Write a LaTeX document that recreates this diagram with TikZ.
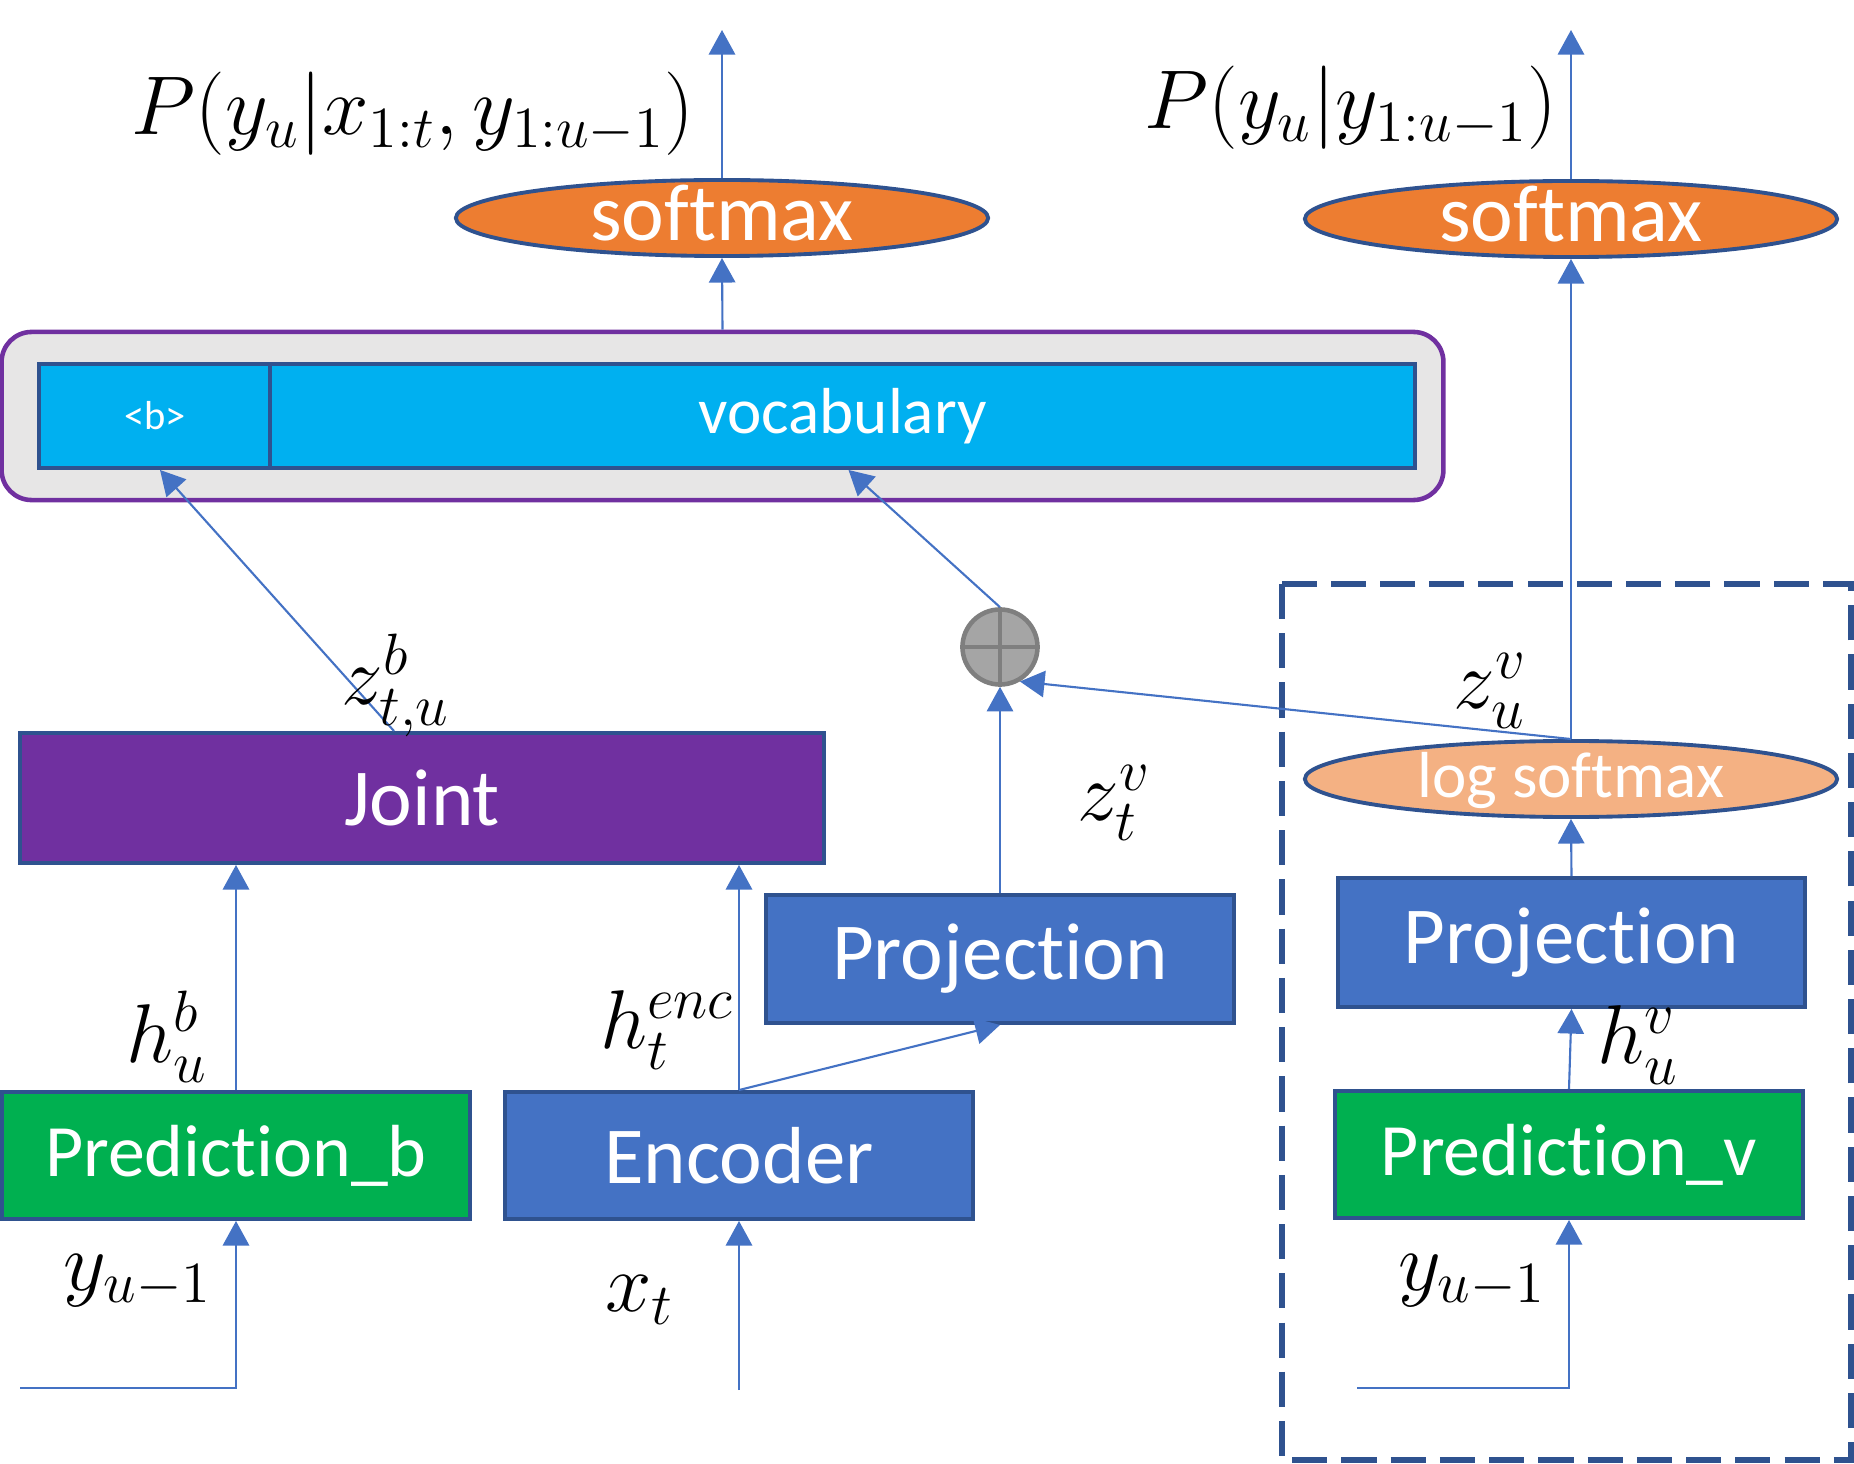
\RequirePackage{fix-cm}
\documentclass[tikz,border=0pt]{standalone}
\usepackage{fontspec}
\setmainfont{Carlito}[Ligatures=NoCommon]
\usetikzlibrary{shapes.geometric,arrows.meta}
\definecolor{linkblue}{HTML}{4472C4}
\definecolor{edgeblue}{HTML}{2F528F}
\definecolor{boxblue}{HTML}{4472C4}
\definecolor{boxgreen}{HTML}{00B050}
\definecolor{boxcyan}{HTML}{00B0F0}
\definecolor{boxpurple}{HTML}{7030A0}
\definecolor{layergray}{HTML}{E7E6E6}
\definecolor{softorange}{HTML}{ED7D31}
\definecolor{logorange}{HTML}{F4B183}
\definecolor{addfill}{HTML}{A5A5A5}
\definecolor{addedge}{HTML}{7F7F7F}

\def\bigfont{\fontsize{23}{27}\selectfont}
\def\midfont{\fontsize{18.5}{22}\selectfont}
\def\mathfont{\fontsize{23.7}{28}\selectfont}

\begin{document}
\begin{tikzpicture}[x=0.01cm, y=-0.01cm,
  block/.style={draw=edgeblue, line width=1.1pt, inner sep=0pt,
    minimum width=4.67cm, minimum height=1.27cm, text=white, font=\bigfont},
  oval/.style={ellipse, draw=edgeblue, line width=1.1pt, inner sep=0pt,
    minimum width=5.32cm, minimum height=0.76cm, text height=0.45cm,
    text depth=0pt, text=white, font=\bigfont},
  cell/.style={draw=edgeblue, line width=1.1pt, fill=boxcyan, inner sep=0pt,
    minimum height=1.04cm, text=white},
  link/.style={linkblue, line width=0.6pt, -{Triangle[length=7pt,width=7.5pt]}},
  lab/.style={font=\mathfont}]
  \useasboundingbox (0,0) rectangle (1854,1464);

  % outputs
  \node[oval, fill=softorange] (smL) at (722,218) {softmax};
  \node[oval, fill=softorange] (smR) at (1571,219) {softmax};
  \coordinate (outL) at (722,30);
  \coordinate (outR) at (1571,30);
  \node[lab] (pL) at (413,114) {$P(y_u|x_{1:t},y_{1:u-1})$};
  \node[lab] (pR) at (1351,108) {$P(y_u|y_{1:u-1})$};

  % output layer
  \node[draw=boxpurple, line width=1.3pt, fill=layergray, rounded corners=0.3cm,
    minimum width=14.41cm, minimum height=1.68cm] (layer) at (722.5,416) {};
  \node[cell, minimum width=2.31cm, font=\fontsize{11.5}{14}\selectfont] (blank) at (155,416) {<b>};
  \node[cell, minimum width=11.45cm, font=\midfont] (vocab) at (842.5,416) {vocabulary};

  % transducer
  \node[block, fill=boxpurple, minimum width=8.04cm, minimum height=1.3cm] (joint) at (422,798) {Joint};
  \node[circle, draw=addedge, fill=addfill, line width=1.3pt, inner sep=0pt,
    minimum size=0.75cm] (add) at (1000,647) {};
  \draw[addedge, line width=1.3pt] (add.north) -- (add.south) (add.west) -- (add.east);
  \node[block, fill=boxblue, minimum height=1.28cm] (projM) at (1000,959) {Projection};
  \node[block, fill=boxblue] (enc) at (739,1155.5) {Encoder};
  \node[block, fill=boxgreen, font=\fontsize{21}{25}\selectfont] (predB) at (236,1155.5) {Prediction\_b};

  % language model branch
  \draw[edgeblue, line width=1.5pt, dash pattern=on 10pt off 4pt] (1282,584) rectangle (1851,1460);
  \node[oval, fill=logorange, font=\midfont, text height=0.36cm] (logsm) at (1571,779) {log softmax};
  \node[block, fill=boxblue, minimum height=1.29cm] (projR) at (1571.5,942.5) {Projection};
  \node[block, fill=boxgreen, font=\fontsize{21}{25}\selectfont] (predV) at (1569,1154.5) {Prediction\_v};

  % inputs
  \coordinate (inB) at (20,1388);
  \coordinate (inX) at (739,1390);
  \coordinate (inV) at (1357,1388);

  % connectors
  \draw[link] (smL.north) -- (outL);
  \draw[link] (smR.north) -- (outR);
  \draw[link] (layer.north) -- (smL.south);
  \draw[link] (logsm.north) -- (smR.south);
  \draw[link] ([xshift=-0.28cm]joint.north) -- ([xshift=0.05cm]blank.south);
  \draw[link] (add.north) -- ([xshift=0.06cm]vocab.south);
  \draw[link] (projM.north) -- (add.south);
  \draw[link] (logsm.north) -- (add.-60);
  \draw[link] (predB.north) -- (predB.north |- joint.south);
  \draw[link] (enc.north) -- (enc.north |- joint.south);
  \draw[link] (enc.north) -- (projM.south);
  \draw[link] (inB) -| (predB.south);
  \draw[link] (inX) -- (enc.south);
  \draw[link] (predV.north) -- (projR.south);
  \draw[link] (projR.north) -- (logsm.south);
  \draw[link] (inV) -| (predV.south);

  % labels
  \node[lab] (zb) at (396,685) {$z^b_{t,u}$};
  \node[lab] (zt) at (1114,803) {$z^v_t$};
  \node[lab] (zu) at (1490,691) {$z^v_u$};
  \node[lab] (hb) at (167,1037) {$h^b_u$};
  \node[lab] (henc) at (667,1030) {$h^{enc}_t$};
  \node[lab] (hv) at (1638,1045) {$h^v_u$};
  \node[lab] (yB) at (138,1281) {$y_{u-1}$};
  \node[lab] (xt) at (640,1300) {$x_t$};
  \node[lab] (yV) at (1472,1281) {$y_{u-1}$};
\end{tikzpicture}
\end{document}
